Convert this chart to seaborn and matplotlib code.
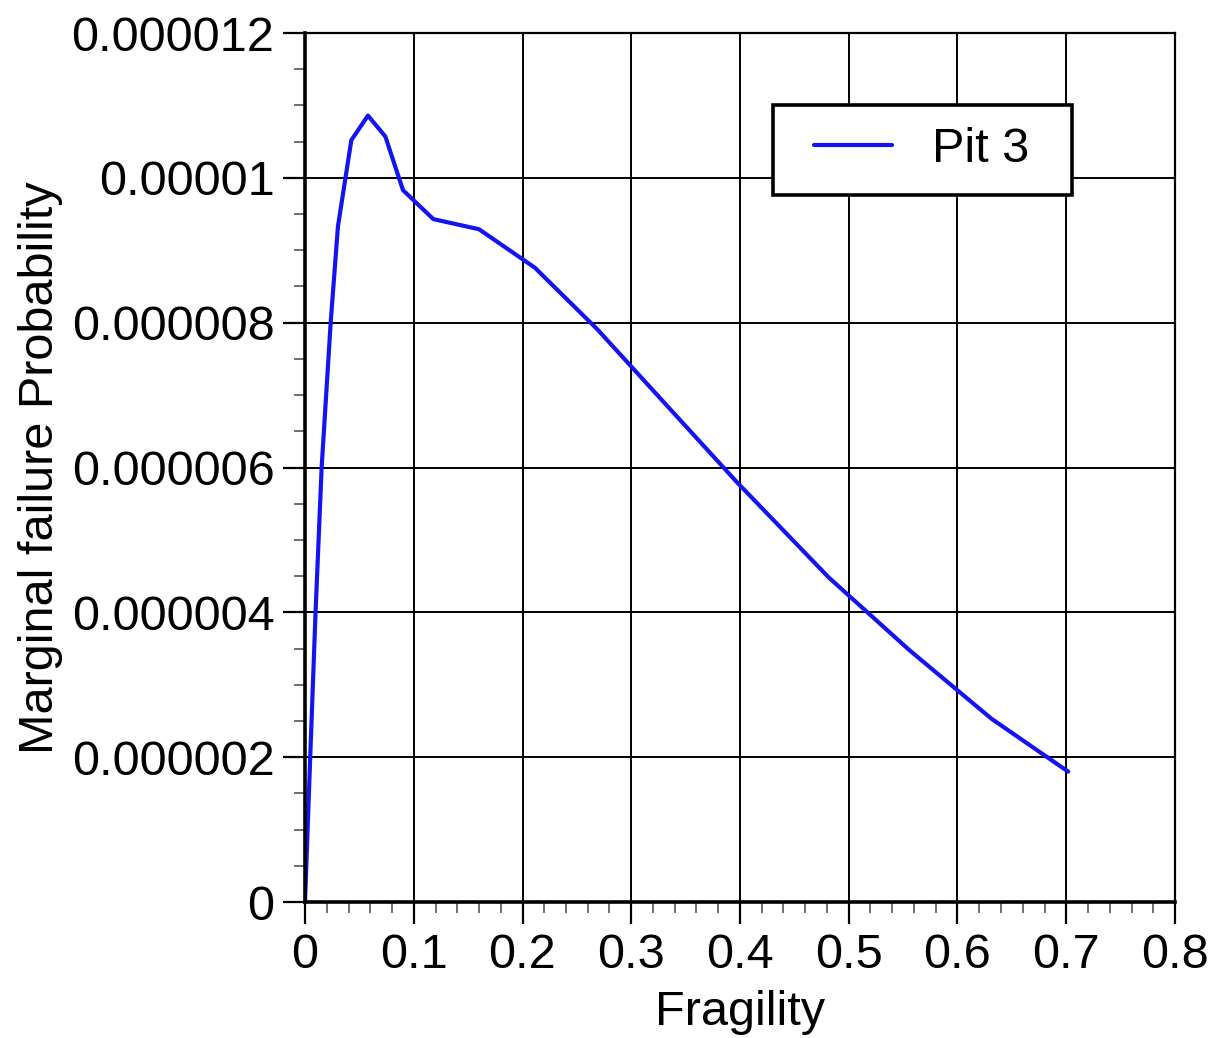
import matplotlib
matplotlib.use("Agg")
import matplotlib.pyplot as plt
import seaborn as sns
import pandas as pd
from matplotlib.ticker import MultipleLocator
from matplotlib.patches import Rectangle

# ---- data ----
fragility = [0.0, 0.0048, 0.0097, 0.0153, 0.0236, 0.0303, 0.0426, 0.0579,
             0.0739, 0.0901, 0.118, 0.160, 0.2113, 0.2687, 0.3197, 0.397,
             0.4817, 0.5556, 0.6313, 0.7018]
prob_e6 = [0.0, 2.0, 4.0, 6.0, 8.0, 9.33, 10.52, 10.86,
           10.57, 9.83, 9.43, 9.29, 8.76, 7.91, 7.07, 5.80,
           4.48, 3.48, 2.53, 1.80]
probability = [v * 1e-6 for v in prob_e6]
series_name = "Pit 3"

x_ticks = [0, 0.1, 0.2, 0.3, 0.4, 0.5, 0.6, 0.7, 0.8]
x_tick_labels = ["0", "0.1", "0.2", "0.3", "0.4", "0.5", "0.6", "0.7", "0.8"]
y_ticks = [0, 2e-6, 4e-6, 6e-6, 8e-6, 1e-5, 1.2e-5]
y_tick_labels = ["0", "0.000002", "0.000004", "0.000006", "0.000008",
                 "0.00001", "0.000012"]

df = pd.DataFrame({"Fragility": fragility, "Probability": probability,
                   "Series": series_name})

sns.set_theme(style="white")
plt.rcParams["font.family"] = ["Liberation Sans", "DejaVu Sans"]
plt.rcParams["text.color"] = "black"
plt.rcParams["axes.labelcolor"] = "black"

FS = 35

fig = plt.figure(figsize=(12.08, 10.38), dpi=100)
ax = fig.add_axes([305 / 1208, 1 - 902 / 1038, 870 / 1208, 869 / 1038])

sns.lineplot(data=df, x="Fragility", y="Probability", ax=ax, color="#1414f0",
             linewidth=3.0, label=series_name, sort=False, estimator=None)

ax.set_xlim(0, 0.8)
ax.set_ylim(0, 1.2e-5)
ax.set_xticks(x_ticks)
ax.set_xticklabels(x_tick_labels)
ax.set_yticks(y_ticks)
ax.set_yticklabels(y_tick_labels)
ax.xaxis.set_minor_locator(MultipleLocator(0.02))
ax.yaxis.set_minor_locator(MultipleLocator(0.5e-6))

ax.grid(True, which="major", color="black", linewidth=1.4)
ax.set_axisbelow(True)

ax.tick_params(axis="both", which="major", direction="out", length=16,
               width=1.6, color="black", labelcolor="black", labelsize=FS,
               pad=6, bottom=True, left=True)
ax.tick_params(axis="both", which="minor", direction="out", length=8,
               width=1.2, color="#555555", bottom=True, left=True)

for side in ["left", "bottom"]:
    ax.spines[side].set_linewidth(2.6)
    ax.spines[side].set_color("black")
for side in ["top", "right"]:
    ax.spines[side].set_linewidth(1.6)
    ax.spines[side].set_color("black")

ax.set_xlabel("Fragility", fontsize=FS, labelpad=9, color="black")
ax.set_ylabel("Marginal failure Probability", fontsize=FS, labelpad=6,
              color="black")

# legend frame box (wider horizontal padding than matplotlib's default)
frame_box = Rectangle((0.538, 0.8136), 0.3436, 0.1036, transform=ax.transAxes,
                      facecolor="white", edgecolor="black", linewidth=2.6,
                      zorder=4.5, clip_on=False)
ax.add_patch(frame_box)

leg = ax.legend(loc="center", bbox_to_anchor=(0.709, 0.8654),
                borderaxespad=0, fontsize=FS, handlelength=1.6,
                handletextpad=0.82, borderpad=0.5, frameon=False)
leg.set_zorder(5)
for t in leg.get_texts():
    t.set_color("black")

fig.savefig("out.png", dpi=100, facecolor="white")
